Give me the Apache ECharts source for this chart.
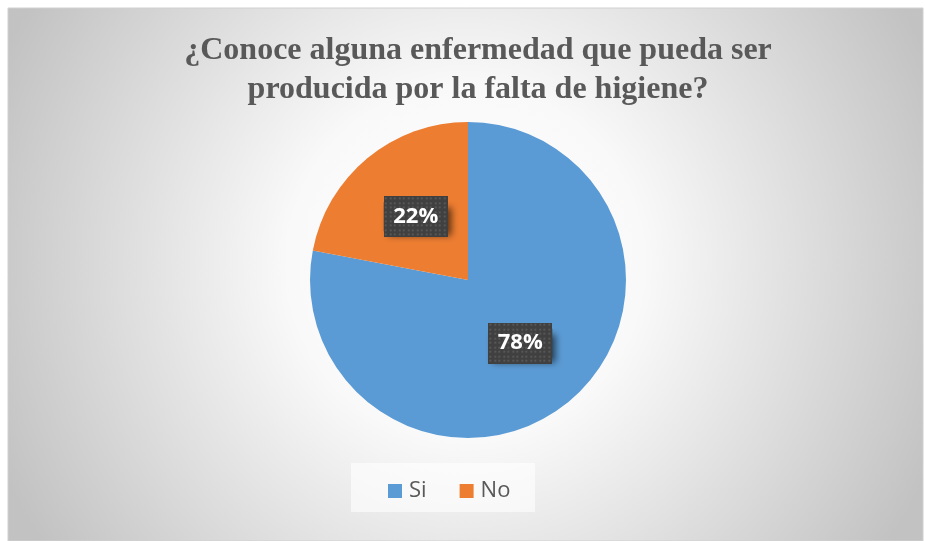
<!DOCTYPE html>
<html><head><meta charset="utf-8">
<script src="https://cdn.jsdelivr.net/npm/echarts@6/dist/echarts.min.js"></script>
<style>html,body{margin:0;padding:0;background:#fff}#c{width:925px;height:541px}</style>
</head><body><div id="c"></div>
<script>
const categories = ['Si', 'No'];
const values = [78, 22];
const colors = ['#5B9BD5', '#ED7D31'];
const titleText = '¿Conoce alguna enfermedad que pueda ser\nproducida por la falta de higiene?';

function dotPattern(w, h) {
  const c = document.createElement('canvas');
  c.width = w; c.height = h;
  const g = c.getContext('2d');
  g.fillStyle = '#404040'; g.fillRect(0, 0, w, h);
  g.fillStyle = '#575757';
  for (let y = 1; y < h; y += 4.5) for (let x = 1; x < w; x += 4.5) g.fillRect(Math.round(x), Math.round(y), 2, 2);
  return c;
}
const pat = dotPattern(64, 41);

const chart = echarts.init(document.getElementById('c'), null, {renderer: 'canvas'});
chart.setOption({
  animation: false,
  graphic: [{
    type: 'rect', z: -10, silent: true,
    shape: {x: 8, y: 8, width: 915, height: 533},
    style: {
      fill: new echarts.graphic.RadialGradient(0.5, 0.48, 0.95, [
        {offset: 0, color: '#ffffff'},
        {offset: 0.35, color: '#f9f9f9'},
        {offset: 1, color: '#c2c2c2'}
      ]),
      stroke: '#d0d0d0', lineWidth: 1
    }
  }, {
    type: 'rect', z: 1, silent: true,
    shape: {x: 351, y: 463, width: 184, height: 49},
    style: {fill: 'rgba(255,255,255,0.6)'}
  }],
  title: {
    text: titleText, left: 473, top: 26, textAlign: 'center',
    textStyle: {fontFamily: 'Liberation Serif', fontWeight: 'bold', fontSize: 32, color: '#595959', lineHeight: 39}
  },
  legend: {
    data: categories, left: 383, top: 475, itemWidth: 14, itemHeight: 14, itemGap: 33, icon: 'rect',
    textStyle: {fontFamily: 'Open Sans', fontSize: 22, color: '#595959', padding: [0, 0, 0, 2]}
  },
  series: [{
    type: 'pie', center: [468, 280], radius: 158, startAngle: 90, clockwise: true,
    data: categories.map((n, i) => ({name: n, value: values[i], itemStyle: {color: colors[i]}})),
    label: {
      position: 'inside', formatter: '{v|{d}%}',
      backgroundColor: '#404040', padding: 0,
      shadowColor: 'rgba(0,0,0,0.6)', shadowBlur: 7, shadowOffsetX: 4, shadowOffsetY: 5,
      rich: {
        v: {
          fontFamily: 'Open Sans', fontWeight: 'bold', fontSize: 22, color: '#ffffff',
          backgroundColor: {image: pat}, width: 48, height: 29, align: 'center', lineHeight: 29,
          padding: [6, 8]
        }
      }
    },
    labelLine: {show: false}
  }]
});
</script></body></html>
